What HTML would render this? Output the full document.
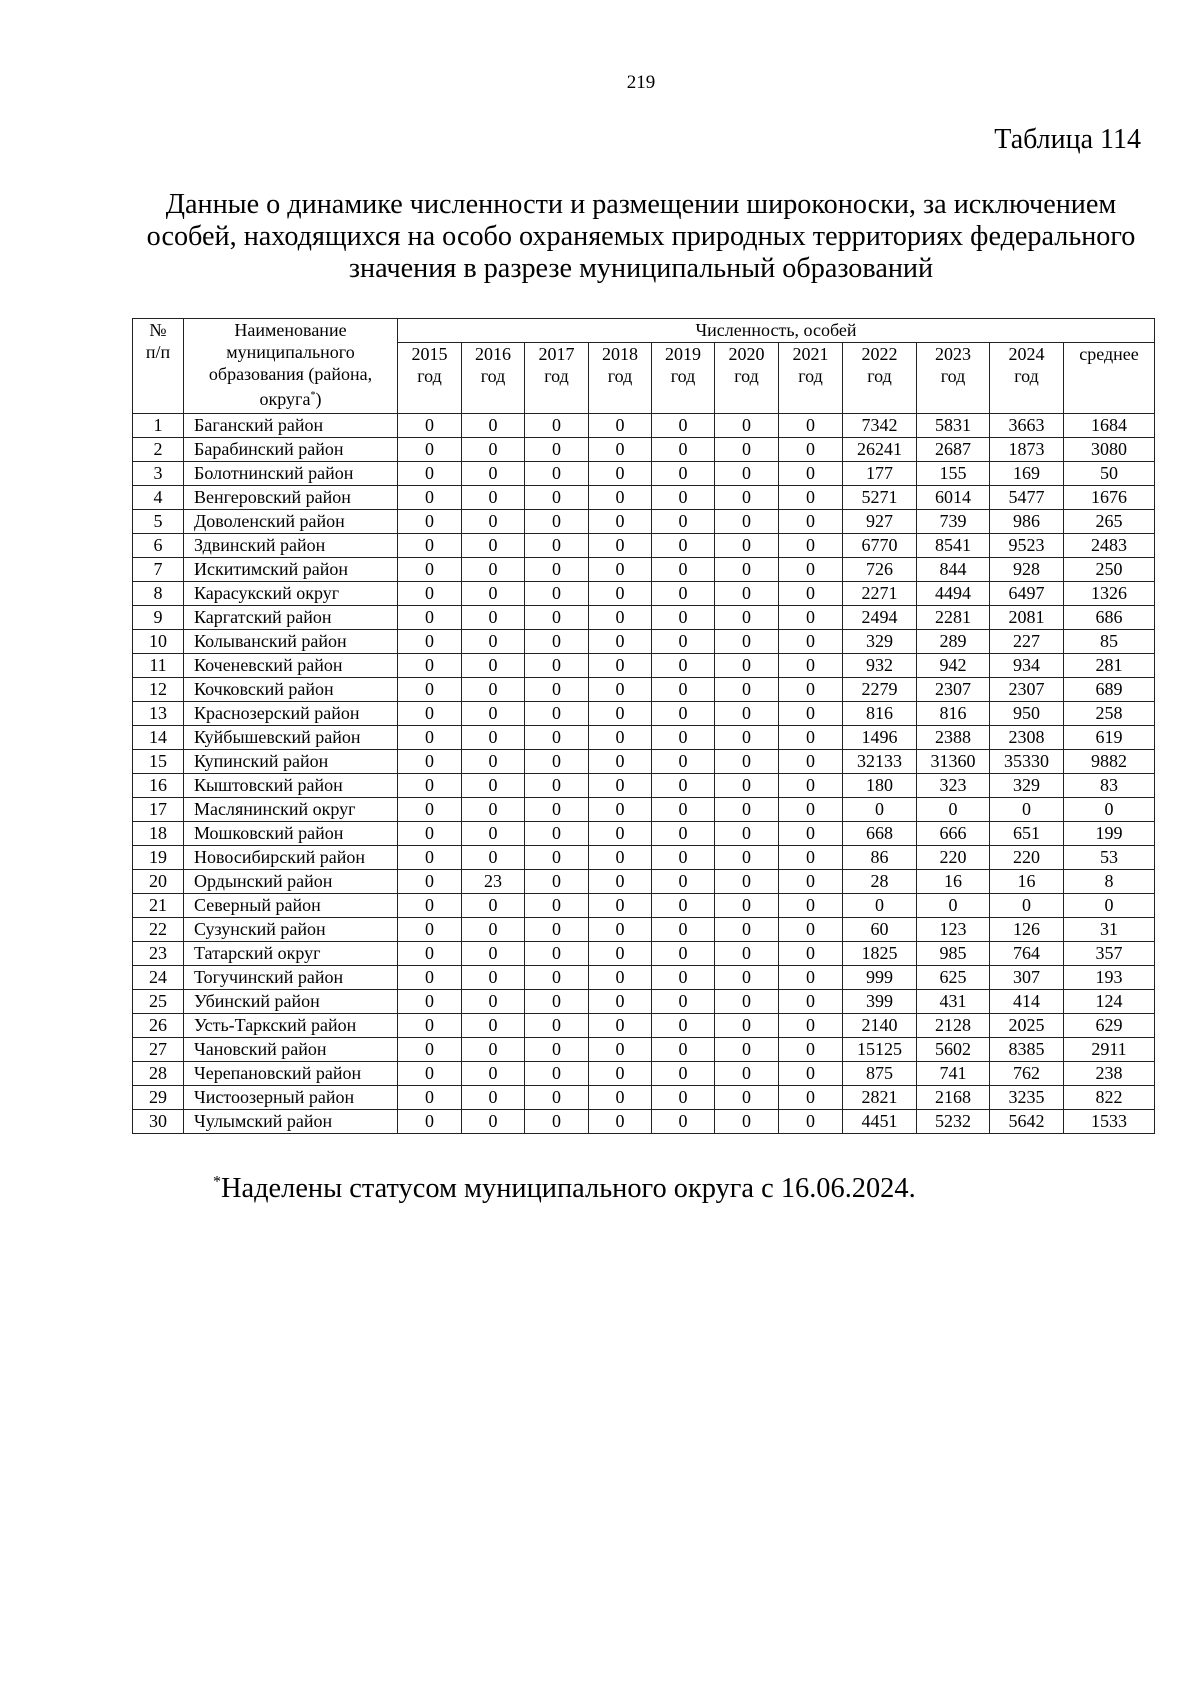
<!DOCTYPE html>
<html><head><meta charset="utf-8"><style>
body{margin:0;width:1200px;height:1697px;background:#fff;font-family:"Liberation Serif","Noto Serif CJK SC","DejaVu Serif",serif;color:#000;position:relative}
.a{position:absolute;white-space:nowrap}
table{position:absolute;left:132px;top:318px;border-collapse:collapse;table-layout:fixed;font-size:18px}
td{border:1.3px solid #222;padding:0;text-align:center;height:23px;line-height:22px;vertical-align:top}
td.n{text-align:left;padding-left:10px}
</style></head><body>
<div class="a" style="left:41px;width:1200px;text-align:center;top:72px;font-size:19px">219</div>
<div class="a" style="right:59px;top:124px;font-size:28px">Таблица 114</div>
<div class="a" style="left:41px;width:1200px;text-align:center;top:189px;font-size:28.2px;line-height:32px">Данные о динамике численности и размещении широконоски, за исключением<br>особей, находящихся на особо охраняемых природных территориях федерального<br>значения в разрезе муниципальный образований</div>
<table>
<colgroup><col style="width:51px"><col style="width:214px"><col style="width:64px"><col style="width:63px"><col style="width:64px"><col style="width:63px"><col style="width:63px"><col style="width:64px"><col style="width:64px"><col style="width:74px"><col style="width:73px"><col style="width:74px"><col style="width:91px"></colgroup>
<tr><td rowspan="2" style="height:92px">№<br>п/п</td><td rowspan="2">Наименование<br>муниципального<br>образования (района,<br>округа<sup style="font-size:10px">*</sup>)</td><td colspan="11">Численность, особей</td></tr>
<tr><td style="height:70px">2015<br>год</td><td>2016<br>год</td><td>2017<br>год</td><td>2018<br>год</td><td>2019<br>год</td><td>2020<br>год</td><td>2021<br>год</td><td>2022<br>год</td><td>2023<br>год</td><td>2024<br>год</td><td>среднее</td></tr>
<tr><td>1</td><td class="n">Баганский район</td><td>0</td><td>0</td><td>0</td><td>0</td><td>0</td><td>0</td><td>0</td><td>7342</td><td>5831</td><td>3663</td><td>1684</td></tr>
<tr><td>2</td><td class="n">Барабинский район</td><td>0</td><td>0</td><td>0</td><td>0</td><td>0</td><td>0</td><td>0</td><td>26241</td><td>2687</td><td>1873</td><td>3080</td></tr>
<tr><td>3</td><td class="n">Болотнинский район</td><td>0</td><td>0</td><td>0</td><td>0</td><td>0</td><td>0</td><td>0</td><td>177</td><td>155</td><td>169</td><td>50</td></tr>
<tr><td>4</td><td class="n">Венгеровский район</td><td>0</td><td>0</td><td>0</td><td>0</td><td>0</td><td>0</td><td>0</td><td>5271</td><td>6014</td><td>5477</td><td>1676</td></tr>
<tr><td>5</td><td class="n">Доволенский район</td><td>0</td><td>0</td><td>0</td><td>0</td><td>0</td><td>0</td><td>0</td><td>927</td><td>739</td><td>986</td><td>265</td></tr>
<tr><td>6</td><td class="n">Здвинский район</td><td>0</td><td>0</td><td>0</td><td>0</td><td>0</td><td>0</td><td>0</td><td>6770</td><td>8541</td><td>9523</td><td>2483</td></tr>
<tr><td>7</td><td class="n">Искитимский район</td><td>0</td><td>0</td><td>0</td><td>0</td><td>0</td><td>0</td><td>0</td><td>726</td><td>844</td><td>928</td><td>250</td></tr>
<tr><td>8</td><td class="n">Карасукский округ</td><td>0</td><td>0</td><td>0</td><td>0</td><td>0</td><td>0</td><td>0</td><td>2271</td><td>4494</td><td>6497</td><td>1326</td></tr>
<tr><td>9</td><td class="n">Каргатский район</td><td>0</td><td>0</td><td>0</td><td>0</td><td>0</td><td>0</td><td>0</td><td>2494</td><td>2281</td><td>2081</td><td>686</td></tr>
<tr><td>10</td><td class="n">Колыванский район</td><td>0</td><td>0</td><td>0</td><td>0</td><td>0</td><td>0</td><td>0</td><td>329</td><td>289</td><td>227</td><td>85</td></tr>
<tr><td>11</td><td class="n">Коченевский район</td><td>0</td><td>0</td><td>0</td><td>0</td><td>0</td><td>0</td><td>0</td><td>932</td><td>942</td><td>934</td><td>281</td></tr>
<tr><td>12</td><td class="n">Кочковский район</td><td>0</td><td>0</td><td>0</td><td>0</td><td>0</td><td>0</td><td>0</td><td>2279</td><td>2307</td><td>2307</td><td>689</td></tr>
<tr><td>13</td><td class="n">Краснозерский район</td><td>0</td><td>0</td><td>0</td><td>0</td><td>0</td><td>0</td><td>0</td><td>816</td><td>816</td><td>950</td><td>258</td></tr>
<tr><td>14</td><td class="n">Куйбышевский район</td><td>0</td><td>0</td><td>0</td><td>0</td><td>0</td><td>0</td><td>0</td><td>1496</td><td>2388</td><td>2308</td><td>619</td></tr>
<tr><td>15</td><td class="n">Купинский район</td><td>0</td><td>0</td><td>0</td><td>0</td><td>0</td><td>0</td><td>0</td><td>32133</td><td>31360</td><td>35330</td><td>9882</td></tr>
<tr><td>16</td><td class="n">Кыштовский район</td><td>0</td><td>0</td><td>0</td><td>0</td><td>0</td><td>0</td><td>0</td><td>180</td><td>323</td><td>329</td><td>83</td></tr>
<tr><td>17</td><td class="n">Маслянинский округ</td><td>0</td><td>0</td><td>0</td><td>0</td><td>0</td><td>0</td><td>0</td><td>0</td><td>0</td><td>0</td><td>0</td></tr>
<tr><td>18</td><td class="n">Мошковский район</td><td>0</td><td>0</td><td>0</td><td>0</td><td>0</td><td>0</td><td>0</td><td>668</td><td>666</td><td>651</td><td>199</td></tr>
<tr><td>19</td><td class="n">Новосибирский район</td><td>0</td><td>0</td><td>0</td><td>0</td><td>0</td><td>0</td><td>0</td><td>86</td><td>220</td><td>220</td><td>53</td></tr>
<tr><td>20</td><td class="n">Ордынский район</td><td>0</td><td>23</td><td>0</td><td>0</td><td>0</td><td>0</td><td>0</td><td>28</td><td>16</td><td>16</td><td>8</td></tr>
<tr><td>21</td><td class="n">Северный район</td><td>0</td><td>0</td><td>0</td><td>0</td><td>0</td><td>0</td><td>0</td><td>0</td><td>0</td><td>0</td><td>0</td></tr>
<tr><td>22</td><td class="n">Сузунский район</td><td>0</td><td>0</td><td>0</td><td>0</td><td>0</td><td>0</td><td>0</td><td>60</td><td>123</td><td>126</td><td>31</td></tr>
<tr><td>23</td><td class="n">Татарский округ</td><td>0</td><td>0</td><td>0</td><td>0</td><td>0</td><td>0</td><td>0</td><td>1825</td><td>985</td><td>764</td><td>357</td></tr>
<tr><td>24</td><td class="n">Тогучинский район</td><td>0</td><td>0</td><td>0</td><td>0</td><td>0</td><td>0</td><td>0</td><td>999</td><td>625</td><td>307</td><td>193</td></tr>
<tr><td>25</td><td class="n">Убинский район</td><td>0</td><td>0</td><td>0</td><td>0</td><td>0</td><td>0</td><td>0</td><td>399</td><td>431</td><td>414</td><td>124</td></tr>
<tr><td>26</td><td class="n">Усть-Таркский район</td><td>0</td><td>0</td><td>0</td><td>0</td><td>0</td><td>0</td><td>0</td><td>2140</td><td>2128</td><td>2025</td><td>629</td></tr>
<tr><td>27</td><td class="n">Чановский район</td><td>0</td><td>0</td><td>0</td><td>0</td><td>0</td><td>0</td><td>0</td><td>15125</td><td>5602</td><td>8385</td><td>2911</td></tr>
<tr><td>28</td><td class="n">Черепановский район</td><td>0</td><td>0</td><td>0</td><td>0</td><td>0</td><td>0</td><td>0</td><td>875</td><td>741</td><td>762</td><td>238</td></tr>
<tr><td>29</td><td class="n">Чистоозерный район</td><td>0</td><td>0</td><td>0</td><td>0</td><td>0</td><td>0</td><td>0</td><td>2821</td><td>2168</td><td>3235</td><td>822</td></tr>
<tr><td>30</td><td class="n">Чулымский район</td><td>0</td><td>0</td><td>0</td><td>0</td><td>0</td><td>0</td><td>0</td><td>4451</td><td>5232</td><td>5642</td><td>1533</td></tr>
</table>
<div class="a" style="left:213px;top:1173px;font-size:28.4px"><sup style="font-size:16px">*</sup>Наделены статусом муниципального округа с 16.06.2024.</div>
</body></html>
